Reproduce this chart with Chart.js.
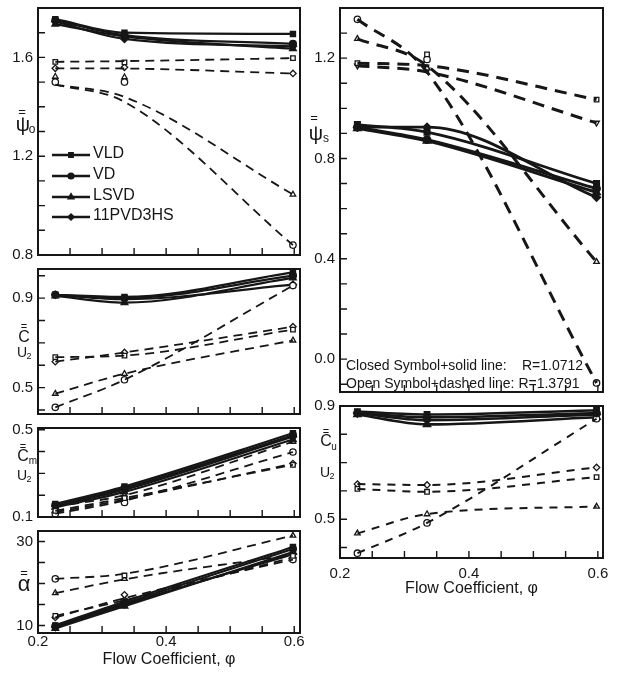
<!DOCTYPE html>
<html>
<head>
<meta charset="utf-8">
<script src="https://cdn.jsdelivr.net/npm/chart.js@4/dist/chart.umd.min.js"></script>
<style>
  body { margin: 0; background: #fff; width: 621px; height: 675px; position: relative; overflow: hidden; }
  canvas { position: absolute; }
</style>
</head>
<body>
<script>
/* global Chart */
const INK = '#161616';
const FONT = '"Liberation Sans", Arial, Helvetica, sans-serif';

// flow coefficient of the three measured points, shared by all panels
const PHI = [0.227, 0.335, 0.598];
const X_TICKS = [0.2, 0.25, 0.3, 0.35, 0.4, 0.45, 0.5, 0.55, 0.6];
const X_LABELS = ['0.2', '0.4', '0.6'];

const SERIES = ['VLD', 'VD', 'LSVD', '11PVD3HS'];
const MARKERS = ['rect', 'circle', 'triangle', 'rectRot'];

// psi_o (left, top)
const psiOTicks = [0.8, 0.9, 1.0, 1.1, 1.2, 1.3, 1.4, 1.5, 1.6, 1.7, 1.8];
const psiOLabels = ['1.6', '1.2', '0.8'];
const psiOSolid = [[1.755, 1.70, 1.695], [1.75, 1.69, 1.655], [1.735, 1.685, 1.635], [1.745, 1.675, 1.645]];
const psiODash = [[1.582, 1.585, 1.597], [1.49, 1.42, 0.84], [1.49, 1.44, 1.045], [1.556, 1.555, 1.535]];
const psiOOpen = [[1.582, 1.58, 1.597], [1.50, 1.50, 0.84], [1.522, 1.52, 1.045], [1.556, 1.56, 1.535]];

// C/U2
const cU2Ticks = [0.4, 0.5, 0.6, 0.7, 0.8, 0.9, 1.0];
const cU2Labels = ['0.9', '0.5'];
const cU2Solid = [[0.915, 0.905, 1.015], [0.915, 0.90, 1.0], [0.91, 0.88, 0.99], [0.915, 0.895, 0.96]];
const cU2Dash = [[0.636, 0.643, 0.759], [0.412, 0.535, 0.956], [0.473, 0.562, 0.711], [0.616, 0.657, 0.772]];
const cU2Open = [[0.636, 0.643, 0.759], [0.412, 0.535, 0.956], [0.473, 0.562, 0.711], [0.616, 0.657, 0.772]];

// Cm/U2
const cmU2Ticks = [0.1, 0.2, 0.3, 0.4, 0.5];
const cmU2Labels = ['0.5', '0.1'];
const cmU2Solid = [[0.16, 0.24, 0.484], [0.155, 0.232, 0.475], [0.145, 0.215, 0.455], [0.15, 0.225, 0.468]];
const cmU2Dash = [[0.128, 0.187, 0.339], [0.115, 0.175, 0.398], [0.148, 0.2, 0.445], [0.122, 0.18, 0.345]];
const cmU2Open = [[0.128, 0.187, 0.339], [0.115, 0.167, 0.398], [0.148, 0.2, 0.445], [0.122, 0.18, 0.345]];

// alpha
const alphaTicks = [10, 15, 20, 25, 30];
const alphaLabels = ['30', '10'];
const alphaSolid = [[10.0, 15.7, 28.7], [9.8, 15.3, 28.2], [9.3, 14.6, 27.5], [9.6, 15.0, 27.0]];
const alphaDash = [[11.9, 16.5, 25.7], [21.1, 22.3, 31.4], [17.7, 21.0, 26.8], [12.3, 16.0, 26.2]];
const alphaOpen = [[12.3, 21.9, 26.6], [21.1, 15.8, 25.7], [17.7, 21.1, 31.4], [11.9, 17.3, 26.2]];

// psi_s (right, top)
const psiSTicks = [-0.1, 0, 0.1, 0.2, 0.3, 0.4, 0.5, 0.6, 0.7, 0.8, 0.9, 1.0, 1.1, 1.2, 1.3];
const psiSLabels = ['1.2', '0.8', '0.4', '0.0'];
const psiSSolid = [[0.935, 0.905, 0.70], [0.925, 0.875, 0.68], [0.92, 0.87, 0.665], [0.925, 0.925, 0.645]];
const psiSDash = [[1.18, 1.17, 1.035], [1.355, 1.145, -0.095], [1.277, 1.17, 0.388], [1.17, 1.145, 0.942]];
const psiSOpen = [[1.18, 1.215, 1.035], [1.355, 1.195, -0.095], [1.277, 1.16, 0.388], [1.17, 1.154, 0.942]];

// Cu/U2
const cuU2Ticks = [0.4, 0.5, 0.6, 0.7, 0.8, 0.9];
const cuU2Labels = ['0.9', '0.5'];
const cuU2Solid = [[0.88, 0.87, 0.885], [0.875, 0.86, 0.875], [0.87, 0.835, 0.86], [0.875, 0.85, 0.87]];
const cuU2Dash = [[0.607, 0.597, 0.649], [0.38, 0.487, 0.855], [0.45, 0.518, 0.545], [0.624, 0.621, 0.683]];
const cuU2Open = [[0.607, 0.597, 0.649], [0.38, 0.487, 0.855], [0.45, 0.518, 0.545], [0.624, 0.621, 0.683]];

Chart.defaults.font.family = FONT;
Chart.defaults.font.size = 15;
Chart.defaults.color = INK;

const pts = (vals) => PHI.map((x, i) => ({ x, y: vals[i] }));
const labelFor = (list, v) => list.find(l => Math.abs(parseFloat(l) - v) < 1e-6) || '';

function datasets(solid, dash, open, st) {
  const out = [];
  SERIES.forEach((name, i) => {
    out.push({
      label: name, data: pts(solid[i]),
      borderColor: INK, borderWidth: st.solidW,
      pointStyle: MARKERS[i], pointRadius: 3, pointBackgroundColor: INK, pointBorderColor: INK,
      cubicInterpolationMode: 'monotone',
    });
    out.push({
      label: name + ' dashed', data: pts(dash[i]),
      borderColor: INK, borderWidth: st.dashW, borderDash: st.dash,
      pointRadius: 0, cubicInterpolationMode: 'monotone',
    });
    const down = st.downTri && i === 3;
    out.push({
      label: name + ' open', data: pts(open[i]), showLine: false,
      pointStyle: down ? 'triangle' : MARKERS[i], pointRotation: down ? 180 : 0,
      pointRadius: 3.2, pointBackgroundColor: '#fff', pointBorderColor: INK, pointBorderWidth: 1.3,
    });
  });
  return out;
}

function drawTexts(ctx, items, ox, oy) {
  ctx.fillStyle = INK;
  ctx.textAlign = 'center';
  ctx.textBaseline = 'middle';
  for (const t of items) {
    ctx.font = `${t.s}px ${FONT}`;
    ctx.fillText(t.t, t.x - ox, t.y - oy);
  }
}

function panel(box, cfg) {
  const bottom = cfg.xAxis ? 40 : 10;
  const W = box.w + 40 + 14, H = box.h + 10 + bottom;
  const ox = box.l - 40, oy = box.t - 10;
  const cv = document.createElement('canvas');
  cv.width = W; cv.height = H;
  cv.style.left = ox + 'px'; cv.style.top = oy + 'px';
  cv.style.width = W + 'px'; cv.style.height = H + 'px';
  document.body.appendChild(cv);

  const deco = {
    id: 'deco',
    afterDatasetsDraw(chart) {
      const { ctx, chartArea: a, scales: { x, y } } = chart;
      ctx.save();
      ctx.strokeStyle = INK;
      ctx.lineWidth = 2;
      ctx.strokeRect(a.left, a.top, a.right - a.left, a.bottom - a.top);
      ctx.lineWidth = 1.4;
      ctx.beginPath();
      cfg.yTicks.forEach(v => {
        const p = y.getPixelForValue(v);
        ctx.moveTo(a.left, p); ctx.lineTo(a.left + 7, p);
      });
      X_TICKS.forEach(v => {
        const p = x.getPixelForValue(v);
        ctx.moveTo(p, a.bottom); ctx.lineTo(p, a.bottom - 7);
      });
      ctx.stroke();
      drawTexts(ctx, cfg.texts, ox, oy);
      if (cfg.extra) cfg.extra(ctx, ox, oy);
      ctx.restore();
    },
  };

  return new Chart(cv, {
    type: 'line',
    data: { datasets: datasets(cfg.solid, cfg.dash, cfg.open, cfg.style) },
    options: {
      responsive: false,
      animation: false,
      devicePixelRatio: 1,
      layout: { padding: { left: 0, top: 10, right: 14, bottom: cfg.xAxis ? 0 : 10 } },
      plugins: { legend: { display: false }, tooltip: { enabled: false } },
      scales: {
        x: {
          type: 'linear', min: 0.2, max: cfg.xMax,
          display: !!cfg.xAxis,
          grid: { display: false, drawTicks: false },
          border: { display: false },
          afterBuildTicks: (s) => { s.ticks = X_TICKS.map(v => ({ value: v })); },
          afterFit: (s) => { s.height = bottom; },
          ticks: {
            autoSkip: false, maxRotation: 0,
            padding: cfg.xAxis ? cfg.xAxis.pad : 0,
            callback: (v) => labelFor(X_LABELS, v),
          },
          title: {
            display: !!cfg.xAxis, text: 'Flow Coefficient, φ', color: INK,
            font: { size: 16 }, padding: { top: 0, bottom: cfg.xAxis ? cfg.xAxis.titlePad : 0 },
          },
        },
        y: {
          type: 'linear', min: cfg.yMin, max: cfg.yMax,
          grid: { display: false, drawTicks: false },
          border: { display: false },
          afterBuildTicks: (s) => { s.ticks = cfg.yTicks.map(v => ({ value: v })); },
          afterFit: (s) => { s.width = 40; },
          ticks: { autoSkip: false, padding: 5, callback: (v) => labelFor(cfg.yLabels, v) },
        },
      },
    },
    plugins: [deco],
  });
}

const leftStyle = { solidW: 2.2, dashW: 1.8, dash: [9, 6] };

// legend drawn inside the psi_o panel
const legendRows = [155, 176, 197, 217];
function drawLegend(ctx, ox, oy) {
  ctx.strokeStyle = INK;
  ctx.fillStyle = INK;
  ctx.lineWidth = 2.4;
  ctx.font = `16px ${FONT}`;
  ctx.textAlign = 'left';
  ctx.textBaseline = 'alphabetic';
  SERIES.forEach((name, i) => {
    const y = legendRows[i] - oy;
    ctx.beginPath();
    ctx.moveTo(52 - ox, y); ctx.lineTo(90 - ox, y);
    ctx.stroke();
    Chart.helpers.drawPoint(ctx, { pointStyle: MARKERS[i], radius: 2.4, rotation: 0, borderWidth: 1 }, 71 - ox, y);
    ctx.fillText(name, 93 - ox, y + 3);
  });
}

function drawNotes(ctx, ox, oy) {
  ctx.fillStyle = INK;
  ctx.font = `14px ${FONT}`;
  ctx.textAlign = 'left';
  ctx.textBaseline = 'middle';
  ctx.fillText('Closed Symbol+solid line:', 346 - ox, 366 - oy);
  ctx.fillText('R=1.0712', 522 - ox, 366 - oy);
  ctx.fillText('Open Symbol+dashed line: R=1.3791', 346 - ox, 384 - oy);
}

panel({ l: 38, t: 4, w: 262, h: 261 }, {
  xMax: 0.609, yMin: 0.8, yMax: 1.8, yTicks: psiOTicks, yLabels: psiOLabels,
  solid: psiOSolid, dash: psiODash, open: psiOOpen, style: leftStyle,
  texts: [{ t: '=', x: 22, y: 112, s: 13 }, { t: 'ψ', x: 23, y: 125, s: 20 }, { t: 'o', x: 32, y: 130, s: 12 }],
  extra: drawLegend,
});

panel({ l: 38, t: 265, w: 262, h: 159 }, {
  xMax: 0.609, yMin: 0.382, yMax: 1.03, yTicks: cU2Ticks, yLabels: cU2Labels,
  solid: cU2Solid, dash: cU2Dash, open: cU2Open, style: leftStyle,
  texts: [{ t: '=', x: 24, y: 327, s: 11 }, { t: 'C', x: 24, y: 338, s: 16 },
          { t: 'U', x: 22, y: 353, s: 14 }, { t: '2', x: 29, y: 357, s: 9 }],
});

panel({ l: 38, t: 424, w: 262, h: 103 }, {
  xMax: 0.609, yMin: 0.1, yMax: 0.508, yTicks: cmU2Ticks, yLabels: cmU2Labels,
  solid: cmU2Solid, dash: cmU2Dash, open: cmU2Open, style: leftStyle,
  texts: [{ t: '=', x: 23, y: 447, s: 11 }, { t: 'C', x: 23, y: 457, s: 16 }, { t: 'm', x: 33, y: 461, s: 10 },
          { t: 'U', x: 22, y: 476, s: 14 }, { t: '2', x: 29, y: 480, s: 9 }],
});

panel({ l: 38, t: 527, w: 262, h: 106 }, {
  xMax: 0.609, yMin: 8.2, yMax: 32.5, yTicks: alphaTicks, yLabels: alphaLabels,
  solid: alphaSolid, dash: alphaDash, open: alphaOpen, style: leftStyle,
  texts: [{ t: '=', x: 24, y: 573, s: 13 }, { t: 'α', x: 24, y: 585, s: 22 }],
  xAxis: { pad: 0, titlePad: 3.4 },
});

panel({ l: 340, t: 4, w: 263, h: 398 }, {
  xMax: 0.608, yMin: -0.131, yMax: 1.40, yTicks: psiSTicks, yLabels: psiSLabels,
  solid: psiSSolid, dash: psiSDash, open: psiSOpen,
  style: { solidW: 2.8, dashW: 3, dash: [12, 8], downTri: true },
  texts: [{ t: '=', x: 314, y: 118, s: 13 }, { t: 'ψ', x: 316, y: 134, s: 20 }, { t: 's', x: 326, y: 139, s: 12 }],
  extra: drawNotes,
});

panel({ l: 340, t: 402, w: 263, h: 156 }, {
  xMax: 0.608, yMin: 0.363, yMax: 0.9, yTicks: cuU2Ticks, yLabels: cuU2Labels,
  solid: cuU2Solid, dash: cuU2Dash, open: cuU2Open,
  style: { solidW: 2.6, dashW: 2, dash: [8, 7] },
  texts: [{ t: '=', x: 326, y: 432, s: 11 }, { t: 'C', x: 326, y: 442, s: 16 }, { t: 'u', x: 334, y: 447, s: 10 },
          { t: 'U', x: 325, y: 473, s: 14 }, { t: '2', x: 332, y: 477, s: 9 }],
  xAxis: { pad: 7, titlePad: 0 },
});
</script>
</body>
</html>
